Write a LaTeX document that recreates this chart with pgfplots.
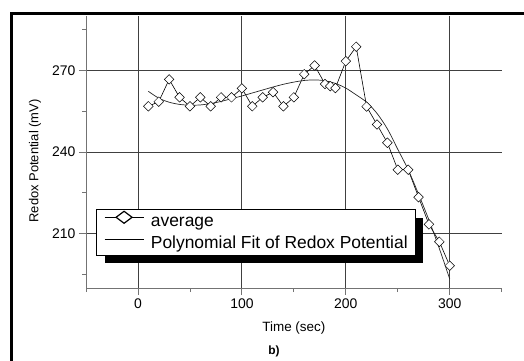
\documentclass[border=0pt]{standalone}
\usepackage{fontspec}
\setmainfont{Liberation Sans}
\usepackage{pgfplots}
\pgfplotsset{compat=1.18}
\begin{document}
\begin{tikzpicture}
\useasboundingbox (0,0) rectangle (524bp,361bp);
\draw[line width=2.7bp] (11.3bp,0) -- (11.3bp,347.7bp) -- (524bp,347.7bp);
\begin{axis}[
  at={(86bp,73bp)}, anchor=south west,
  scale only axis, width=415.7bp, height=272bp,
  xmin=-50, xmax=350, ymin=190, ymax=290,
  axis x line*=bottom, axis y line*=left,
  axis line style={draw=black!55, line width=0.8bp, -},
  xtick={0,100,200,300}, minor xtick={-50,50,150,250,350},
  ytick={210,240,270}, minor ytick={195,225,255,285},
  xmajorgrids, ymajorgrids,
  major grid style={draw=black!75, line width=0.8bp},
  tick align=outside, major tick length=7bp, minor tick length=4bp,
  tick style={draw=black!55, line width=0.8bp},
  ticklabel style={font=\fontsize{14}{16}\selectfont},
  /pgf/number format/assume math mode=true,
  xlabel={Time (sec)}, ylabel={Redox Potential (mV)},
  xlabel style={font=\fontsize{13.5}{15}\selectfont, at={(axis description cs:0.5,-0.146)}, anchor=center},
  ylabel style={font=\fontsize{13}{15}\selectfont, at={(axis description cs:-0.1227,0.467)}, anchor=center},
  legend style={at={(axis cs:-40.4,218.9)}, anchor=north west, draw=black, line width=0.6bp, fill=white,
    font=\fontsize{17.5}{21}\selectfont,
    cells={anchor=west}, inner xsep=8bp, inner ysep=1bp, column sep=7bp, row sep=0bp,
    nodes={inner xsep=0bp, inner ysep=2.5bp, text height=13bp, text depth=4bp}},
]
\addplot[black, line width=0.6bp, mark=square*, mark size=3.4bp,
  mark options={rotate=45, fill=white, draw=black, line width=0.5bp},
  legend image code/.code={
    \draw[black, line width=0.6bp] (0bp,4.5bp) -- (39bp,4.5bp);
    \draw[black, fill=white, line width=1.2bp] (11.5bp,4.5bp) -- (19.5bp,10.5bp) -- (27.5bp,4.5bp) -- (19.5bp,-1.5bp) -- cycle;
  }] coordinates {
(10,256.8) (20,258.5) (30,266.7) (40,260.1) (50,256.8) (60,260.1) (70,256.8)
(80,260.1) (90,260.1) (100,263.4) (110,256.8) (120,260.1) (130,262.0) (140,256.8)
(150,260.1) (160,268.6) (170,271.8) (180,265.0) (185,264.2) (190,263.5) (200,273.4)
(210,278.7) (220,256.7) (230,250.1) (240,243.4) (250,233.5) (260,233.5) (270,223.4)
(280,213.4) (290,207.0) (300,198.2)
};
\addlegendentry{average}
\addplot[black!85, line width=0.7bp, smooth, no marks,
  legend image code/.code={\draw[black, line width=0.6bp] (0bp,4.5bp) -- (39bp,4.5bp);}] coordinates {
(10,262.3) (20,259.8) (30,258.3) (40,257.5) (50,257.2) (60,257.3) (70,257.8)
(80,258.6) (90,259.6) (100,260.6) (110,261.7) (120,262.8) (130,263.9) (140,264.9)
(150,265.7) (160,266.3) (170,266.5) (180,266.2) (190,265.2) (200,263.5) (210,261.0)
(220,258.3) (230,254.2) (240,248.5) (250,241.0) (260,233.5) (270,224.5) (280,215.0)
(290,204.5) (300,193.3)
};
\addlegendentry{Polynomial Fit of Redox Potential}
\fill[black] (axis cs:-31.7,215.7) rectangle (axis cs:273.8,199.3);
\end{axis}
\node[font=\bfseries\fontsize{12}{14}\selectfont] at (274bp,10bp) {b)};
\end{tikzpicture}
\end{document}
